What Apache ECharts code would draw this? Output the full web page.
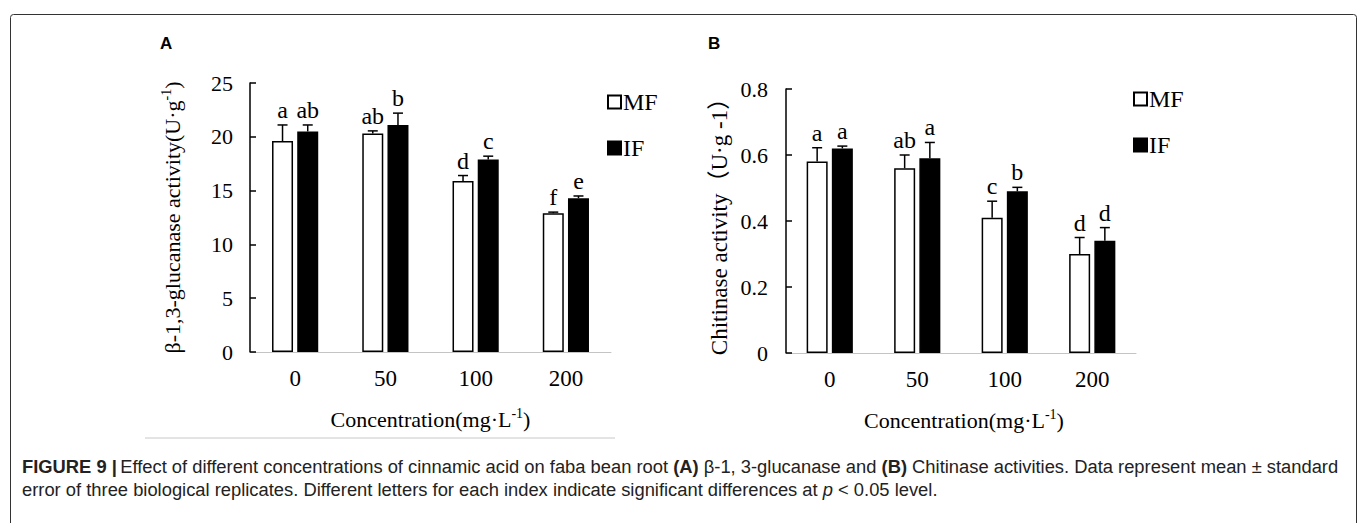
<!DOCTYPE html>
<html>
<head>
<meta charset="utf-8">
<title>Figure 9</title>
<script src="https://cdn.jsdelivr.net/npm/echarts@6/dist/echarts.min.js"></script>
<style>
  html, body { margin: 0; padding: 0; background: #fff; }
  #main { width: 1358px; height: 523px; }
</style>
</head>
<body>
<div id="main"></div>
<script>
// concentration groups (mg/L)
var categories = ['0', '50', '100', '200'];

// panel A: beta-1,3-glucanase activity
var glucMF = [19.6, 20.3, 15.9, 12.9];
var glucMFErr = [1.5, 0.25, 0.5, 0.1];
var glucIF = [20.5, 21.1, 17.9, 14.3];
var glucIFErr = [0.6, 1.1, 0.3, 0.2];
var glucMFLetters = ['a', 'ab', 'd', 'f'];
var glucIFLetters = ['ab', 'b', 'c', 'e'];

// panel B: chitinase activity
var chitMF = [0.58, 0.56, 0.41, 0.30];
var chitMFErr = [0.042, 0.04, 0.05, 0.05];
var chitIF = [0.62, 0.59, 0.49, 0.34];
var chitIFErr = [0.007, 0.048, 0.012, 0.04];
var chitMFLetters = ['a', 'ab', 'c', 'd'];
var chitIFLetters = ['a', 'a', 'b', 'd'];

var serif = '"Liberation Serif", "Times New Roman", "Noto Sans CJK SC", serif';
var sans = '"Liberation Sans", Arial, sans-serif';
var barW = 21;
var off = 12.6;

var myChart = echarts.init(document.getElementById('main'), null, { renderer: 'svg' });

// error bar (upper half only) + significance letter
function errSeries(xi, yi, means, errs, letters, offset) {
  var data = means.map(function (m, i) { return [i, m, errs[i]]; });
  return {
    type: 'custom',
    xAxisIndex: xi,
    yAxisIndex: yi,
    z: 5,
    silent: true,
    data: data,
    renderItem: function (params, api) {
      var i = api.value(0);
      var base = api.coord([i, api.value(1)]);
      var hi = api.coord([i, api.value(1) + api.value(2)]);
      var x = base[0] + offset;
      var st = { stroke: '#000', lineWidth: 1.5 };
      return {
        type: 'group',
        children: [
          { type: 'line', shape: { x1: x, y1: base[1], x2: x, y2: hi[1] }, style: st },
          { type: 'line', shape: { x1: x - 5, y1: hi[1], x2: x + 5, y2: hi[1] }, style: st },
          {
            type: 'text',
            x: x,
            y: hi[1] - 3,
            style: {
              text: letters[params.dataIndex],
              textAlign: 'center',
              textVerticalAlign: 'bottom',
              font: '24px ' + serif,
              fill: '#000'
            }
          }
        ]
      };
    }
  };
}

var txt = { fontFamily: serif, fontSize: 22, color: '#000', lineHeight: 27 };
var sup = { fontFamily: serif, fontSize: 14, color: '#000', lineHeight: 14, verticalAlign: 'top' };

var option = {
  animation: false,
  legend: [
    {
      left: 602, top: 85, orient: 'vertical',
      itemWidth: 13, itemHeight: 13, itemGap: 22,
      icon: 'rect', selectedMode: false,
      textStyle: { fontFamily: serif, fontSize: 24, color: '#000', padding: [0, 0, 0, -3] },
      data: ['MF', 'IF']
    },
    {
      left: 1128, top: 82, orient: 'vertical',
      itemWidth: 13, itemHeight: 13, itemGap: 22,
      icon: 'rect', selectedMode: false,
      textStyle: { fontFamily: serif, fontSize: 24, color: '#000', padding: [0, 0, 0, -3] },
      data: ['MF', 'IF']
    }
  ],
  grid: [
    { left: 250, top: 83, width: 361, height: 269 },
    { left: 786, top: 89, width: 350, height: 264 }
  ],
  xAxis: [0, 1].map(function (g) {
    return {
      type: 'category',
      gridIndex: g,
      data: categories,
      axisLine: { lineStyle: { color: '#c4c4c4', width: 1 } },
      axisTick: { show: false },
      axisLabel: { margin: 15, fontFamily: serif, fontSize: 23, color: '#000' },
      name: '{t|Concentration(mg·L}{s|-1}{t|)}',
      nameLocation: 'middle',
      nameGap: 54,
      nameTextStyle: { padding: g === 0 ? [0, 0, 0, 0] : [0, 0, 0, 6], rich: { t: txt, s: sup } }
    };
  }),
  yAxis: [
    {
      type: 'value', gridIndex: 0, min: 0, max: 25, interval: 5,
      axisLine: { show: true, lineStyle: { color: '#000', width: 1.5 } },
      axisTick: { show: true, inside: true, length: 6, lineStyle: { color: '#000', width: 1.5 } },
      splitLine: { show: false },
      axisLabel: { margin: 17, fontFamily: serif, fontSize: 22, color: '#000' },
      name: '{t|β-1,3-glucanase activity(U·g}{s|-1}{t|)}',
      nameLocation: 'middle', nameRotate: 90, nameGap: 64,
      nameTextStyle: { rich: { t: txt, s: sup } }
    },
    {
      type: 'value', gridIndex: 1, min: 0, max: 0.8, interval: 0.2,
      axisLine: { show: true, lineStyle: { color: '#000', width: 1.5 } },
      axisTick: { show: true, inside: true, length: 6, lineStyle: { color: '#000', width: 1.5 } },
      splitLine: { show: false },
      axisLabel: { margin: 18, fontFamily: serif, fontSize: 22, color: '#000' },
      name: 'Chitinase activity（U·g -1）',
      nameLocation: 'middle', nameRotate: 90, nameGap: 53,
      nameTextStyle: { fontFamily: serif, fontSize: 23, color: '#000', lineHeight: 28 }
    }
  ],
  series: [
    {
      name: 'MF', type: 'bar', xAxisIndex: 0, yAxisIndex: 0, data: glucMF,
      barWidth: barW, barGap: '20%',
      itemStyle: { color: '#fff', borderColor: '#000', borderWidth: 1.5 }
    },
    {
      name: 'IF', type: 'bar', xAxisIndex: 0, yAxisIndex: 0, data: glucIF,
      barWidth: barW, barGap: '20%',
      itemStyle: { color: '#000', borderColor: '#000', borderWidth: 1.5 }
    },
    {
      name: 'MF', type: 'bar', xAxisIndex: 1, yAxisIndex: 1, data: chitMF,
      barWidth: barW, barGap: '20%',
      itemStyle: { color: '#fff', borderColor: '#000', borderWidth: 1.5 }
    },
    {
      name: 'IF', type: 'bar', xAxisIndex: 1, yAxisIndex: 1, data: chitIF,
      barWidth: barW, barGap: '20%',
      itemStyle: { color: '#000', borderColor: '#000', borderWidth: 1.5 }
    },
    errSeries(0, 0, glucMF, glucMFErr, glucMFLetters, -off),
    errSeries(0, 0, glucIF, glucIFErr, glucIFLetters, off),
    errSeries(1, 1, chitMF, chitMFErr, chitMFLetters, -off),
    errSeries(1, 1, chitIF, chitIFErr, chitIFLetters, off)
  ],
  graphic: [
    // figure frame
    {
      type: 'rect', left: 8, top: 12, silent: true,
      shape: { width: 1346, height: 540, r: 3 },
      style: { fill: 'none', stroke: '#333', lineWidth: 1 }
    },
    // thin rule under panel A
    {
      type: 'line', silent: true,
      shape: { x1: 145, y1: 438, x2: 615, y2: 438 },
      style: { stroke: '#c8c8c8', lineWidth: 1 }
    },
    {
      type: 'text', left: 160, top: 35,
      style: { text: 'A', font: 'bold 17px ' + sans, fill: '#000' }
    },
    {
      type: 'text', left: 708, top: 35,
      style: { text: 'B', font: 'bold 17px ' + sans, fill: '#000' }
    },
    {
      type: 'text', left: 22, top: 457,
      style: {
        text: '{b|FIGURE 9 |} {n|Effect of different concentrations of cinnamic acid on faba bean root }{b|(A)}{n| β-1, 3-glucanase and }{b|(B)}{n| Chitinase activities. Data represent mean ± standard}\n' +
              '{n|error of three biological replicates. Different letters for each index indicate significant differences at }{i|p}{n| < 0.05 level.}',
        rich: {
          n: { fontFamily: sans, fontSize: 18.35, fill: '#222', lineHeight: 23 },
          b: { fontFamily: sans, fontSize: 18.35, fontWeight: 'bold', fill: '#222', lineHeight: 23 },
          i: { fontFamily: sans, fontSize: 18.35, fontStyle: 'italic', fill: '#222', lineHeight: 23 }
        }
      }
    }
  ]
};

myChart.setOption(option);
</script>
</body>
</html>
